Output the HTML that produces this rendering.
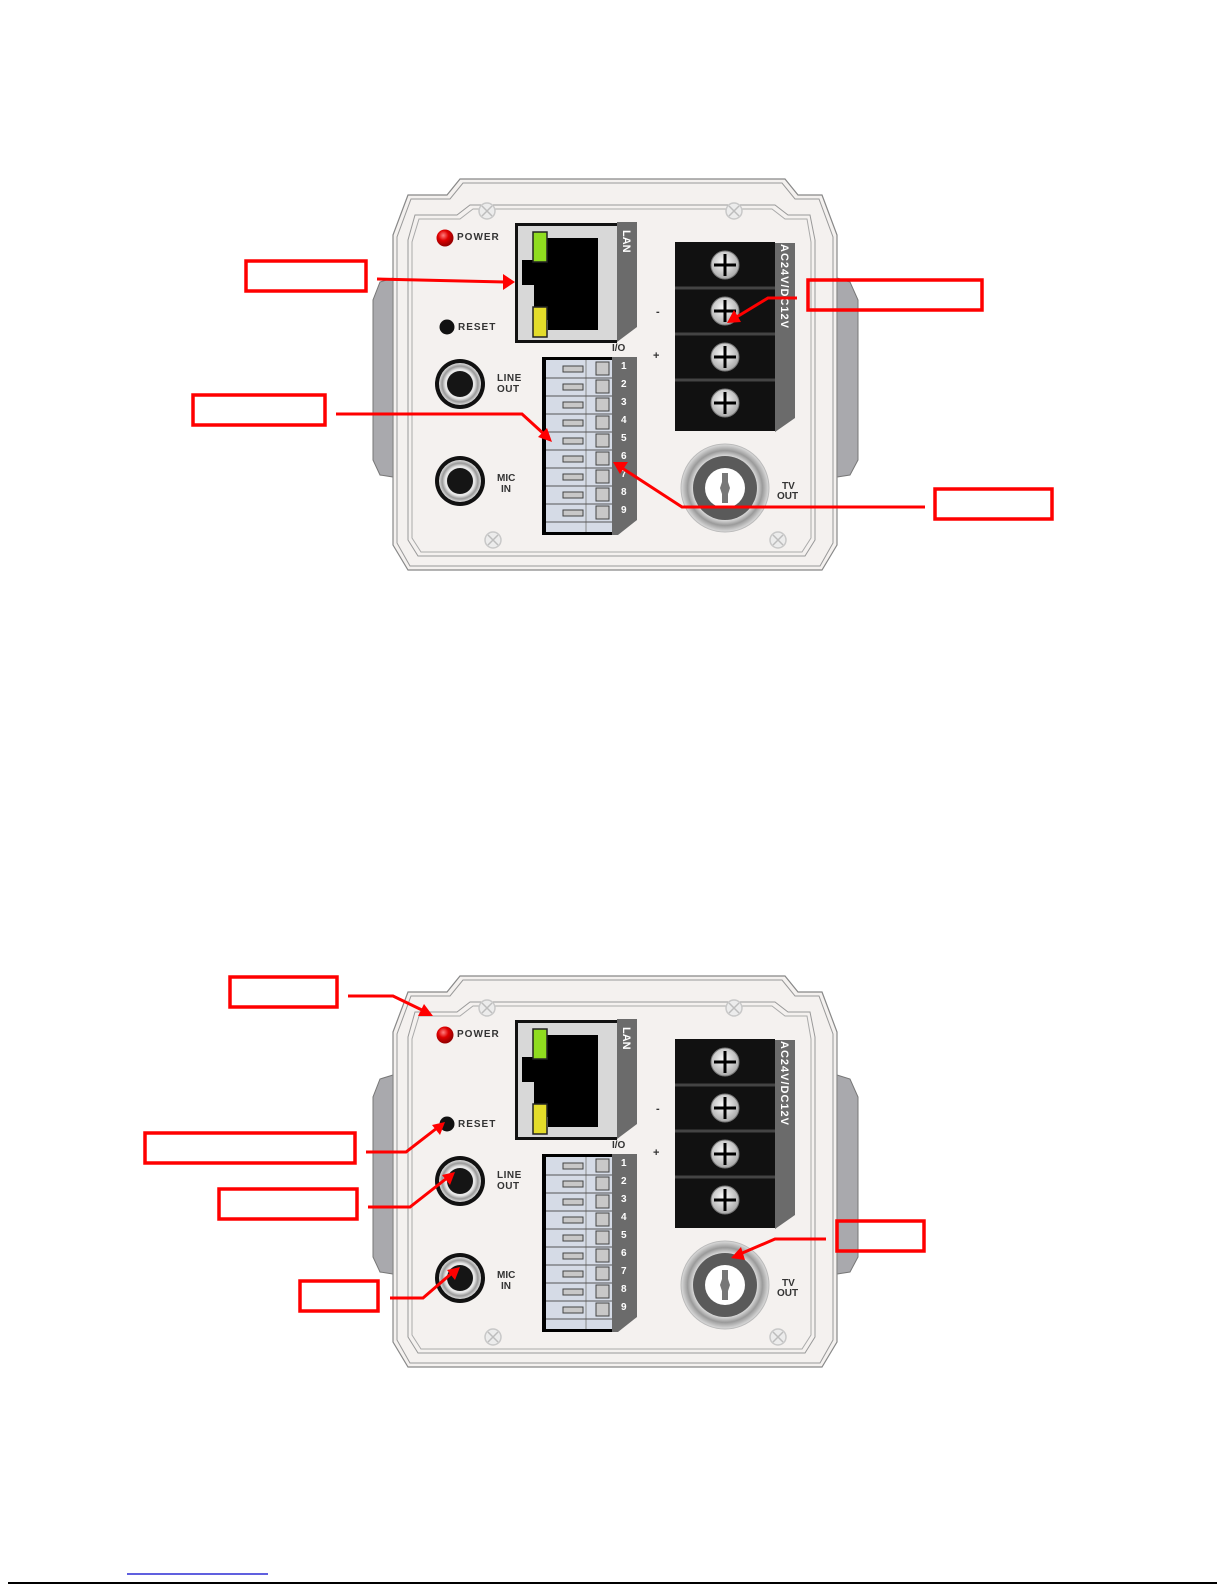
<!DOCTYPE html>
<html><head><meta charset="utf-8"><style>
html,body{margin:0;padding:0;background:#fff;}
svg{display:block;}
text{font-family:"Liberation Sans",sans-serif;font-weight:bold;}
</style></head><body>
<svg width="1225" height="1585" viewBox="0 0 1225 1585" xmlns="http://www.w3.org/2000/svg">
<defs>
<radialGradient id="led" cx="40%" cy="35%" r="60%"><stop offset="0" stop-color="#ff8080"/><stop offset="0.5" stop-color="#e00000"/><stop offset="1" stop-color="#900"/></radialGradient>
<radialGradient id="scr" cx="45%" cy="40%" r="60%"><stop offset="0" stop-color="#fff"/><stop offset="1" stop-color="#a8a8a8"/></radialGradient>
<radialGradient id="ring" cx="50%" cy="50%" r="50%"><stop offset="0.7" stop-color="#e8e8e8"/><stop offset="0.85" stop-color="#9a9a9a"/><stop offset="1" stop-color="#ddd"/></radialGradient>
<g id="cam">
 <!-- side tabs -->
 <path d="M393,278 L380,282 L373,300 L373,460 L380,475 L393,477 Z" fill="#a9a9ad" stroke="#777" stroke-width="1"/>
 <path d="M837,278 L850,282 L858,300 L858,460 L850,475 L837,477 Z" fill="#a9a9ad" stroke="#777" stroke-width="1"/>
 <!-- body -->
 <path d="M460,179 L785,179 L798,195 L822,195 L837,235 L837,545 L822,570 L408,570 L393,545 L393,235 L408,195 L447,195 Z" fill="#f4f1ef" stroke="#888" stroke-width="1.2"/>
 <path d="M463,183 L782,183 L795,199 L819,199 L833,237 L833,543 L820,566 L410,566 L397,543 L397,237 L411,199 L450,199 Z" fill="none" stroke="#999" stroke-width="1"/>
 <path d="M470,205 H775 L788,215 H810 L815,240 V540 L805,556 H418 L408,540 V240 L415,215 H457 Z" fill="none" stroke="#999" stroke-width="1"/>
 <path d="M473,209 H772 L785,219 H807 L811,242 V538 L802,552 H421 L412,538 V242 L419,219 H460 Z" fill="none" stroke="#aaa" stroke-width="1"/>
 <!-- screws -->
 <g stroke="#c8c8c8" stroke-width="1.5" fill="#ececec">
  <circle cx="487" cy="211" r="8"/><circle cx="734" cy="211" r="8"/><circle cx="493" cy="540" r="8"/><circle cx="778" cy="540" r="8"/>
 </g>
 <g stroke="#bdbdbd" stroke-width="1.5">
  <path d="M482,206 l10,10 M492,206 l-10,10 M729,206 l10,10 M739,206 l-10,10 M488,535 l10,10 M498,535 l-10,10 M773,535 l10,10 M783,535 l-10,10"/>
 </g>
 <!-- power led / reset -->
 <circle cx="445" cy="238" r="8.5" fill="url(#led)"/>
 <circle cx="447" cy="327" r="7.5" fill="#111"/>
 <!-- LAN -->
 <rect x="515" y="223" width="102" height="120" fill="#111"/>
 <rect x="518" y="226" width="99" height="114" fill="#d8d8d8"/>
 <path d="M617,222 H637 V327 L617,342 Z" fill="#6b6b6b"/>
 <path d="M548,238 H598 V330 L548,330 V320 H534 V285 H522 V260 H534 V238 Z" fill="#000"/>
 <rect x="533" y="232" width="14" height="30" fill="#8fdc1f" stroke="#222" stroke-width="1.5"/>
 <rect x="533" y="307" width="14" height="30" fill="#e4dc2a" stroke="#222" stroke-width="1.5"/>
 <!-- IO block -->
 <rect x="542" y="357" width="76" height="178" fill="#000"/>
 <rect x="546" y="360" width="66" height="172" fill="#d5dbe6"/>
 <path d="M612,357 H637 V520 L618,535 H612 Z" fill="#6b6b6b"/>
 <line x1="586" y1="360" x2="586" y2="532" stroke="#888" stroke-width="1"/>
 <g id="rows" fill="none" stroke="#555" stroke-width="1">
  <path d="M546,378 H612 M546,396 H612 M546,414 H612 M546,432 H612 M546,450 H612 M546,468 H612 M546,486 H612 M546,504 H612 M546,522 H612"/>
 </g>
 <g fill="#c8c8c8" stroke="#444" stroke-width="1">
  <rect x="563" y="366" width="20" height="6"/><rect x="563" y="384" width="20" height="6"/><rect x="563" y="402" width="20" height="6"/><rect x="563" y="420" width="20" height="6"/><rect x="563" y="438" width="20" height="6"/><rect x="563" y="456" width="20" height="6"/><rect x="563" y="474" width="20" height="6"/><rect x="563" y="492" width="20" height="6"/><rect x="563" y="510" width="20" height="6"/>
  <rect x="596" y="362" width="13" height="13"/><rect x="596" y="380" width="13" height="13"/><rect x="596" y="398" width="13" height="13"/><rect x="596" y="416" width="13" height="13"/><rect x="596" y="434" width="13" height="13"/><rect x="596" y="452" width="13" height="13"/><rect x="596" y="470" width="13" height="13"/><rect x="596" y="488" width="13" height="13"/><rect x="596" y="506" width="13" height="13"/>
 </g>
 <!-- power terminal -->
 <path d="M775,243 H795 V418 L775,432 Z" fill="#6b6b6b"/>
 <rect x="675" y="242" width="100" height="189" fill="#111"/>
 <g stroke="#444" stroke-width="3"><path d="M675,288 H775 M675,334 H775 M675,380 H775"/></g>
 <g fill="url(#scr)" stroke="#777" stroke-width="1">
  <circle cx="725" cy="265" r="14"/><circle cx="725" cy="311" r="14"/><circle cx="725" cy="357" r="14"/><circle cx="725" cy="403" r="14"/>
 </g>
 <g stroke="#000" stroke-width="3"><path d="M714,265 H736 M725,254 V276 M714,311 H736 M725,300 V322 M714,357 H736 M725,346 V368 M714,403 H736 M725,392 V414"/></g>
 <!-- jacks -->
 <circle cx="460" cy="384" r="25" fill="#111"/><circle cx="460" cy="384" r="21" fill="url(#ring)"/><circle cx="460" cy="384" r="13" fill="#151515"/>
 <circle cx="460" cy="481" r="25" fill="#111"/><circle cx="460" cy="481" r="21" fill="url(#ring)"/><circle cx="460" cy="481" r="13" fill="#151515"/>
 <!-- TV out -->
 <circle cx="725" cy="488" r="44" fill="url(#ring)" stroke="#bbb"/>
 <circle cx="725" cy="488" r="32" fill="#5a5a5a"/>
 <circle cx="725" cy="488" r="20" fill="#fff"/>
 <path d="M722,473 H728 V482 L730,488 L728,494 V503 H722 V494 L720,488 L722,482 Z" fill="#777"/>
</g>
</defs>

<use href="#cam"/>
<use href="#cam" transform="translate(0,797)"/>

<!-- top labels -->
<g fill="#333" font-size="10">
<text x="457" y="240" letter-spacing="1">POWER</text>
<text x="458" y="330" letter-spacing="1">RESET</text>
<text x="612" y="351" font-size="10">I/O</text>
<text x="497" y="381" font-size="10" letter-spacing="0.5">LINE</text>
<text x="497" y="392" font-size="10" letter-spacing="0.5">OUT</text>
<text x="497" y="481" font-size="10">MIC</text>
<text x="501" y="492" font-size="10">IN</text>
<text x="782" y="489" font-size="10">TV</text>
<text x="777" y="499" font-size="10">OUT</text>
<text x="656" y="315" font-size="11">-</text>
<text x="653" y="359" font-size="11">+</text>
</g>
<g fill="#fff" font-size="10">
<text x="621" y="369">1</text><text x="621" y="387">2</text><text x="621" y="405">3</text><text x="621" y="423">4</text><text x="621" y="441">5</text><text x="621" y="459">6</text><text x="621" y="477">7</text><text x="621" y="495">8</text><text x="621" y="513">9</text>
<text transform="translate(623,230) rotate(90)" font-size="11">LAN</text>
<text transform="translate(781,244) rotate(90)" font-size="11" letter-spacing="1">AC24V/DC12V</text>
</g>

<!-- bottom labels -->
<g transform="translate(0,797)">
<g fill="#333" font-size="10">
<text x="457" y="240" letter-spacing="1">POWER</text>
<text x="458" y="330" letter-spacing="1">RESET</text>
<text x="612" y="351" font-size="10">I/O</text>
<text x="497" y="381" font-size="10" letter-spacing="0.5">LINE</text>
<text x="497" y="392" font-size="10" letter-spacing="0.5">OUT</text>
<text x="497" y="481" font-size="10">MIC</text>
<text x="501" y="492" font-size="10">IN</text>
<text x="782" y="489" font-size="10">TV</text>
<text x="777" y="499" font-size="10">OUT</text>
<text x="656" y="315" font-size="11">-</text>
<text x="653" y="359" font-size="11">+</text>
</g>
<g fill="#fff" font-size="10">
<text x="621" y="369">1</text><text x="621" y="387">2</text><text x="621" y="405">3</text><text x="621" y="423">4</text><text x="621" y="441">5</text><text x="621" y="459">6</text><text x="621" y="477">7</text><text x="621" y="495">8</text><text x="621" y="513">9</text>
<text transform="translate(623,230) rotate(90)" font-size="11">LAN</text>
<text transform="translate(781,244) rotate(90)" font-size="11" letter-spacing="1">AC24V/DC12V</text>
</g>
</g>

<!-- annotations -->
<g fill="none" stroke="#f00" stroke-width="3.5">
<rect x="246" y="261" width="120" height="30"/>
<rect x="193" y="395" width="132" height="30"/>
<rect x="808" y="280" width="174" height="30"/>
<rect x="935" y="489" width="117" height="30"/>
<rect x="230" y="977" width="107" height="30"/>
<rect x="145" y="1133" width="210" height="30"/>
<rect x="219" y="1189" width="138" height="30"/>
<rect x="300" y="1281" width="78" height="30"/>
<rect x="837" y="1221" width="87" height="30"/>
</g>
<g fill="none" stroke="#f00" stroke-width="3">
<path d="M377,279 L505,282"/>
<path d="M336,414 H522 L545,435"/>
<path d="M797,298 H768 L735,318"/>
<path d="M925,507 H682 L622,468"/>
<path d="M348,996 H393 L424,1011"/>
<path d="M366,1152 H406 L437,1128"/>
<path d="M368,1207 H410 L447,1178"/>
<path d="M390,1298 H423 L452,1273"/>
<path d="M826,1239 H775 L740,1254"/>
</g>
<g fill="#f00">
<polygon points="515,282 503,274 503,290"/>
<polygon points="552,442 538,437 547,428"/>
<polygon points="727,323 734,310 741,322"/>
<polygon points="613,462 628,462 620,474"/>
<polygon points="433,1016 418,1016 424,1004"/>
<polygon points="445,1122 440,1135 432,1125"/>
<polygon points="455,1172 450,1185 442,1175"/>
<polygon points="460,1267 455,1280 447,1270"/>
<polygon points="731,1258 741,1247 745,1260"/>
</g>

<!-- footer -->
<line x1="127" y1="1574" x2="268" y2="1574" stroke="#0000cc" stroke-width="1.2"/>
<line x1="8" y1="1583" x2="1217" y2="1583" stroke="#000" stroke-width="2"/>
</svg>
</body></html>
